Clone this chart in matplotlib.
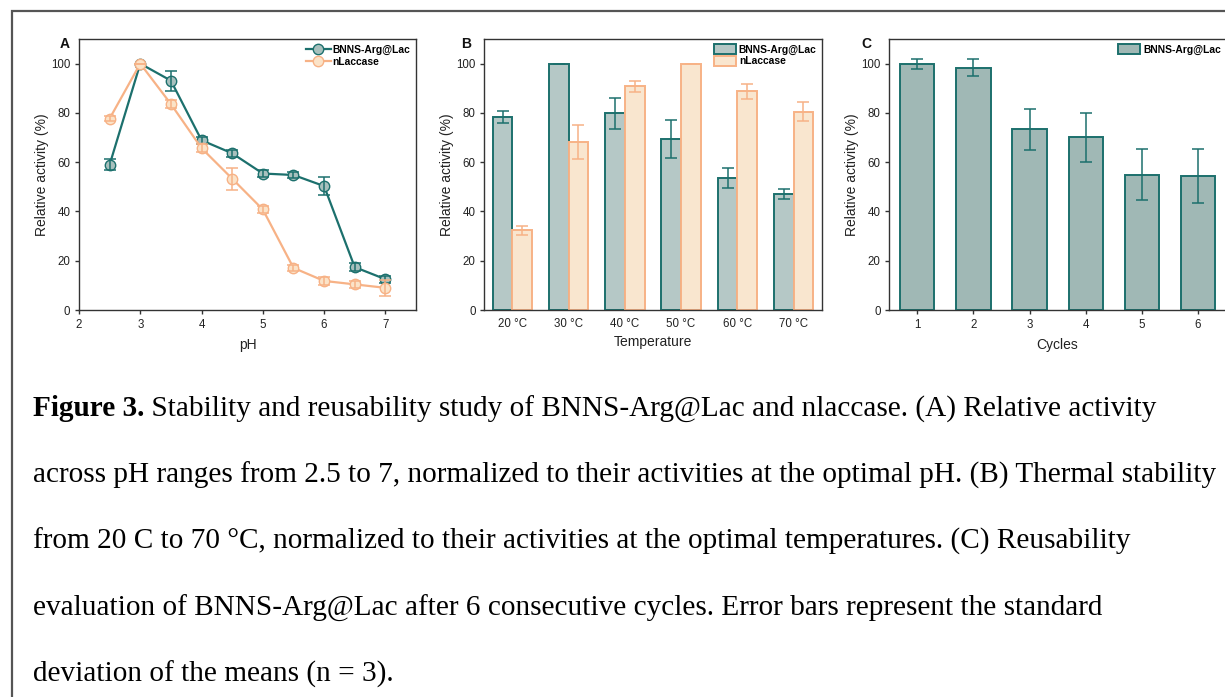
import matplotlib
matplotlib.use('Agg')
import matplotlib.pyplot as plt
from matplotlib.patches import Rectangle
from matplotlib.lines import Line2D
import numpy as np

# ---------------- data ----------------
ph = [2.5, 3, 3.5, 4, 4.5, 5, 5.5, 6, 6.5, 7]
bnns_ph = [59.0, 100, 93.1, 68.9, 63.6, 55.4, 54.8, 50.3, 17.4, 12.5]
bnns_ph_err = [2.3, 0, 4.1, 1.5, 1.5, 1.5, 1.2, 3.5, 1.5, 1.5]
nlac_ph = [77.7, 100, 83.6, 65.7, 53.3, 40.8, 17.1, 11.8, 10.4, 9.0]
nlac_ph_err = [1.0, 0, 1.5, 1.5, 4.5, 1.5, 1.2, 1.5, 1.5, 3.2]

temps = ['20 °C', '30 °C', '40 °C', '50 °C', '60 °C', '70 °C']
bnns_t = [78.3, 100, 79.9, 69.5, 53.5, 47.1]
bnns_t_err = [2.4, 0, 6.3, 7.7, 4.0, 2.2]
nlac_t = [32.3, 68.1, 90.8, 100, 88.7, 80.5]
nlac_t_err = [1.8, 7.0, 2.2, 0, 3.1, 3.9]

cycles = [1, 2, 3, 4, 5, 6]
reuse = [100, 98.4, 73.4, 70.1, 55.0, 54.5]
reuse_err = [2.0, 3.5, 8.3, 9.9, 10.2, 11.0]

series_names = ['BNNS-Arg@Lac', 'nLaccase']

caption_bold = 'Figure 3.'
caption_lines = [
    ' Stability and reusability study of BNNS-Arg@Lac and nlaccase. (A) Relative activity',
    'across pH ranges from 2.5 to 7, normalized to their activities at the optimal pH. (B) Thermal stability',
    'from 20 C to 70 °C, normalized to their activities at the optimal temperatures. (C) Reusability',
    'evaluation of BNNS-Arg@Lac after 6 consecutive cycles. Error bars represent the standard',
    'deviation of the means (n = 3).',
]

# ---------------- style ----------------
TEAL = '#1c706d'
TEAL_FACE_A = '#a8c0bd'
TEAL_FACE_B = '#b5c8c6'
TEAL_FACE_C = '#a0b8b5'
ORANGE = '#f7b286'
ORANGE_FACE = '#fbe3c8'
ORANGE_FACE_B = '#f9e6cf'
SPINE = '#333333'
LEG_FS = 7.4

W, H = 1225, 697
plt.rcParams['font.family'] = ['Liberation Sans', 'DejaVu Sans']
fig = plt.figure(figsize=(W / 100, H / 100), dpi=100)


def fx(px):
    return px / W


def fy(py):
    return 1 - py / H


def make_ax(left_px, right_px, top_px=39, bottom_px=310):
    ax = fig.add_axes([fx(left_px), fy(bottom_px), (right_px - left_px) / W, (bottom_px - top_px) / H])
    for s in ax.spines.values():
        s.set_color(SPINE)
        s.set_linewidth(1.0)
    ax.tick_params(axis='both', direction='out', length=3.2, width=1.0, color=SPINE,
                   labelsize=8.3, labelcolor='#222222', pad=3.0)
    ax.tick_params(top=False, right=False)
    ax.set_ylim(0, 110)
    ax.set_yticks([0, 20, 40, 60, 80, 100])
    return ax


# ---------------- Panel A ----------------
axA = make_ax(79, 416)
axA.set_xlim(2, 7.5)
axA.set_xticks([2, 3, 4, 5, 6, 7])
axA.plot(ph, bnns_ph, '-o', color=TEAL, lw=1.6, ms=7.5, mfc=TEAL_FACE_A, mec=TEAL, mew=1.0, zorder=3)
axA.errorbar(ph, bnns_ph, yerr=bnns_ph_err, fmt='none', ecolor=TEAL, elinewidth=1.1, capsize=4, capthick=1.1, zorder=4)
axA.plot(ph, nlac_ph, '-o', color=ORANGE, lw=1.6, ms=7.5, mfc=ORANGE_FACE, mec=ORANGE, mew=1.0, zorder=5)
axA.errorbar(ph, nlac_ph, yerr=nlac_ph_err, fmt='none', ecolor=ORANGE, elinewidth=1.1, capsize=4, capthick=1.1, zorder=6)
hA = [Line2D([], [], color=TEAL, lw=1.6, marker='o', ms=7.5, mfc=TEAL_FACE_A, mec=TEAL),
      Line2D([], [], color=ORANGE, lw=1.6, marker='o', ms=7.5, mfc=ORANGE_FACE, mec=ORANGE)]
axA.legend(hA, series_names, loc='upper right', frameon=False, prop={'weight': 'bold', 'size': LEG_FS},
           handlelength=2.4, handletextpad=0.2, labelspacing=0.22, borderaxespad=0.35, borderpad=0.2)

# ---------------- Panel B ----------------
axB = make_ax(484.3, 821.7)
xb = np.arange(len(temps))
bw = 0.35
axB.bar(xb - bw / 2, bnns_t, bw, color=TEAL_FACE_B, edgecolor=TEAL, linewidth=1.4, zorder=2, label=series_names[0])
axB.bar(xb + bw / 2, nlac_t, bw, color=ORANGE_FACE_B, edgecolor=ORANGE, linewidth=1.4, zorder=2, label=series_names[1])
axB.errorbar(xb - bw / 2, bnns_t, yerr=bnns_t_err, fmt='none', ecolor=TEAL, elinewidth=1.1, capsize=4, capthick=1.1, zorder=3)
axB.errorbar(xb + bw / 2, nlac_t, yerr=nlac_t_err, fmt='none', ecolor=ORANGE, elinewidth=1.1, capsize=4, capthick=1.1, zorder=3)
axB.set_xlim(-0.5, 5.5)
axB.set_xticks(xb)
axB.set_xticklabels(temps)
axB.tick_params(axis='x', length=0, pad=6)
axB.legend(loc='upper right', frameon=False, prop={'weight': 'bold', 'size': LEG_FS},
           handlelength=2.2, handleheight=1.15, handletextpad=0.25, labelspacing=0.08,
           borderaxespad=0.3, borderpad=0.2)

# ---------------- Panel C ----------------
axC = make_ax(889.3, 889.3 + 6 * 56.1)
axC.bar(cycles, reuse, 0.61, color=TEAL_FACE_C, edgecolor=TEAL, linewidth=1.4, zorder=2, label=series_names[0])
axC.errorbar(cycles, reuse, yerr=reuse_err, fmt='none', ecolor=TEAL, elinewidth=1.1, capsize=4, capthick=1.1, zorder=3)
axC.set_xlim(0.5, 6.5)
axC.set_xticks(cycles)
axC.legend(loc='upper right', frameon=False, prop={'weight': 'bold', 'size': LEG_FS},
           handlelength=2.2, handleheight=1.15, handletextpad=0.25, labelspacing=0.08,
           borderaxespad=0.3, borderpad=0.2)

# ---------------- labels ----------------
lab_kw = dict(fontsize=10, color='#222222', ha='center', va='center')
fig.text(fx(41.7), fy(174.5), 'Relative activity (%)', rotation=90, **lab_kw)
fig.text(fx(446.7), fy(174.5), 'Relative activity (%)', rotation=90, **lab_kw)
fig.text(fx(851.7), fy(174.5), 'Relative activity (%)', rotation=90, **lab_kw)
fig.text(fx(247.5), fy(345), 'pH', **lab_kw)
fig.text(fx(653), fy(342), 'Temperature', **lab_kw)
fig.text(fx(1057.5), fy(345), 'Cycles', **lab_kw)
for letter, px in zip(['A', 'B', 'C'], [65, 465.7, 866.7]):
    fig.text(fx(px), fy(43.5), letter, fontsize=10, fontweight='bold', ha='center', va='center', color='#111111')

# ---------------- outer frame ----------------
fig.add_artist(Rectangle((fx(11.5), -0.2), 1.5, fy(11.5) + 0.2, transform=fig.transFigure,
                         fill=False, edgecolor='#555555', linewidth=1.6, clip_on=False))

# ---------------- caption ----------------
renderer = fig.canvas.get_renderer()
probe = fig.text(0, 0, caption_lines[1], family='Liberation Serif', fontsize=20)
wpx = probe.get_window_extent(renderer).width
probe.remove()
cap_fs = 20 * (1217 - 33) / wpx
x0 = 33
baselines = [416.5, 482.5, 549, 615.5, 682]
b = fig.text(fx(x0), fy(baselines[0]), caption_bold, family='Liberation Serif', fontweight='bold',
             fontsize=cap_fs, va='baseline', ha='left', color='black')
bw_px = b.get_window_extent(renderer).width
fig.text(fx(x0 + bw_px), fy(baselines[0]), caption_lines[0], family='Liberation Serif',
         fontsize=cap_fs, va='baseline', ha='left', color='black')
for line, yb in zip(caption_lines[1:], baselines[1:]):
    fig.text(fx(x0), fy(yb), line, family='Liberation Serif', fontsize=cap_fs, va='baseline', ha='left', color='black')

fig.savefig('out.png', dpi=100)
